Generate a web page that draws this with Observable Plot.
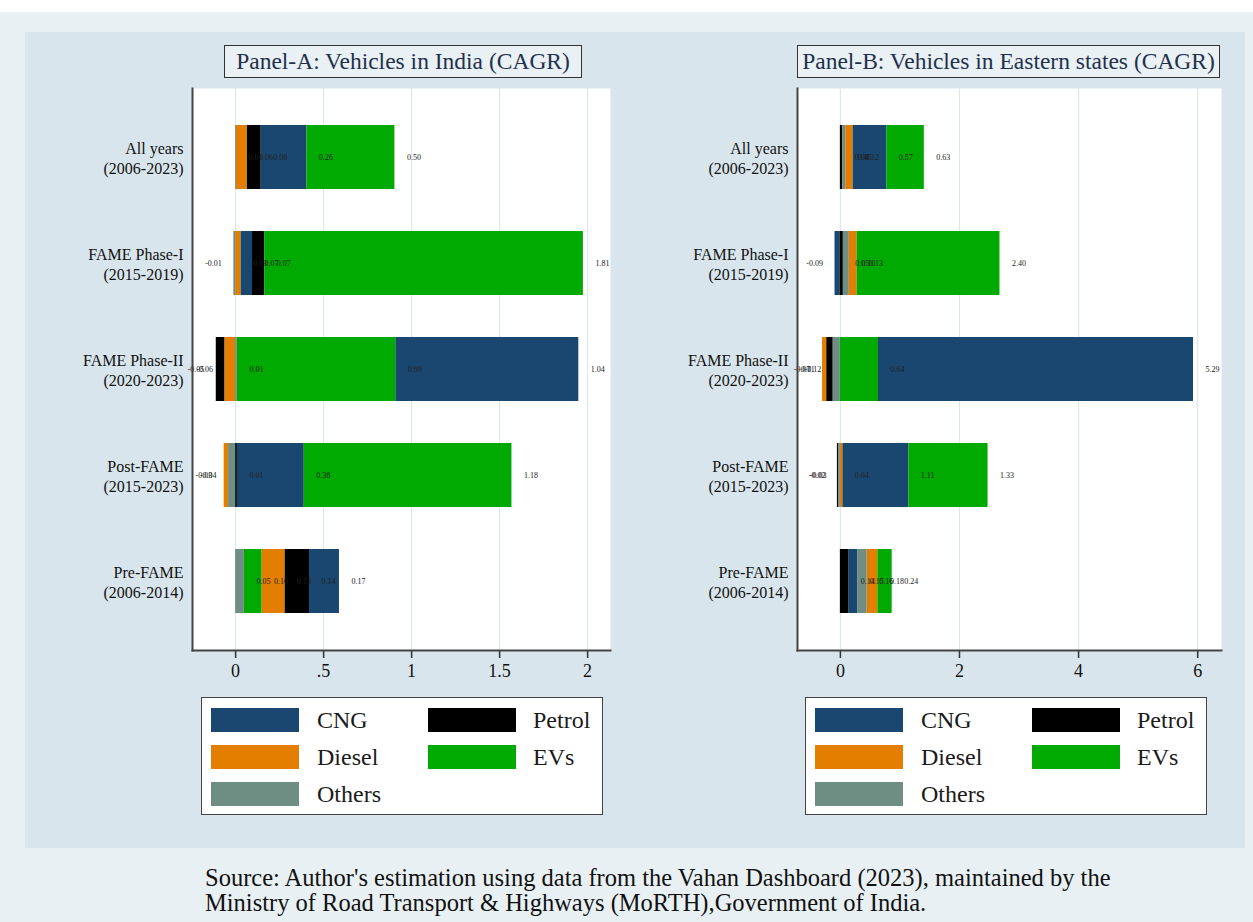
<!DOCTYPE html>
<html><head><meta charset="utf-8">
<script src="https://cdn.jsdelivr.net/npm/d3@7"></script>
<script src="https://cdn.jsdelivr.net/npm/@observablehq/plot@0.6"></script>
<style>
body{margin:0;background:#fff;}
#wrap{position:relative;width:1253px;height:922px;overflow:hidden;font-family:"Liberation Serif","Times New Roman",serif;}
#outer{position:absolute;left:0;top:12px;width:1253px;height:910px;background:#e8f0f3;}
#inner{position:absolute;left:25px;top:32px;width:1220px;height:816px;background:#d8e5ec;}
.ttl{position:absolute;top:45px;height:33px;box-sizing:border-box;border:1.5px solid #333;background:#e9f1f4;font-size:23.5px;line-height:30px;text-align:center;color:#23304d;white-space:nowrap;overflow:hidden;}
.panel{position:absolute;top:80px;}
.legend{position:absolute;top:697px;height:118px;box-sizing:border-box;border:1.5px solid #444;background:#fff;}
.sw{position:absolute;width:88px;height:24px;}
.lt{position:absolute;font-size:24px;line-height:24px;color:#1a1a1a;}
#cap{position:absolute;left:205px;top:865px;font-size:24.5px;line-height:25px;color:#111;white-space:nowrap;}
</style></head>
<body>
<div id="wrap">
  <div id="outer"></div>
  <div id="inner"></div>
  <div class="ttl" style="left:224px;width:358px;">Panel-A: Vehicles in India (CAGR)</div>
  <div class="ttl" style="left:797px;width:423px;">Panel-B: Vehicles in Eastern states (CAGR)</div>
  <div class="panel" id="pA" style="left:30px;"></div>
  <div class="panel" id="pB" style="left:640px;"></div>
  <div class="legend" id="lA" style="left:201px;width:402px;"></div>
  <div class="legend" id="lB" style="left:805px;width:402px;"></div>
  <div id="cap">Source: Author's estimation using data from the Vahan Dashboard (2023), maintained by the<br>Ministry of Road Transport &amp; Highways (MoRTH),Government of India.</div>
</div>
<script>
// ---- categories & legend ----
const fuels = ["CNG", "Petrol", "Diesel", "EVs", "Others"];
const fuelColors = ["#1a476f", "#000000", "#e37e00", "#00aa00", "#6e8e84"];
const periodNames = ["All years", "FAME Phase-I", "FAME Phase-II", "Post-FAME", "Pre-FAME"];
const periodYears = ["(2006-2023)", "(2015-2019)", "(2020-2023)", "(2015-2023)", "(2006-2014)"];

// ---- Panel A: Vehicles in India (CAGR) ----
const indiaCNG    = [0.26, 0.066, 1.04, 0.38, 0.17];
const indiaPetrol = [0.08, 0.07, -0.05, 0.01, 0.14];
const indiaDiesel = [0.06, 0.03, -0.06, -0.025, 0.13];
const indiaEVs    = [0.50, 1.81, 0.90, 1.18, 0.10];
const indiaOthers = [0.005, -0.01, 0.01, -0.04, 0.05];
const indiaTicks = [0, 0.5, 1, 1.5, 2];
const indiaTickLabels = ["0", ".5", "1", "1.5", "2"];

// ---- Panel B: Vehicles in Eastern states (CAGR) ----
const eastCNG    = [0.57, -0.09, 5.29, 1.11, 0.15];
const eastPetrol = [0.04, 0.05, -0.11, -0.02, 0.14];
const eastDiesel = [0.12, 0.13, -0.07, 0.04, 0.18];
const eastEVs    = [0.63, 2.40, 0.64, 1.33, 0.24];
const eastOthers = [0.05, 0.10, -0.12, -0.03, 0.16];
const eastTicks = [0, 2, 4, 6];
const eastTickLabels = ["0", "2", "4", "6"];

function toRows(series) {
  const out = [];
  periodNames.forEach((p, i) => fuels.forEach(f => out.push({period: p, fuel: f, value: series[f][i]})));
  return out;
}

const dataA = toRows({CNG: indiaCNG, Petrol: indiaPetrol, Diesel: indiaDiesel, EVs: indiaEVs, Others: indiaOthers});
const dataB = toRows({CNG: eastCNG, Petrol: eastPetrol, Diesel: eastDiesel, EVs: eastEVs, Others: eastOthers});

function panel(data, domain, ticks, tickLabels, marginLeft, marginRight) {
  const fmt = d => { const i = ticks.indexOf(d); return i >= 0 ? tickLabels[i] : String(d); };
  const yLab = p => p + "\n" + periodYears[periodNames.indexOf(p)];
  const lbl = d => d.value.toFixed(2);
  return Plot.plot({
    width: 590, height: 610,
    marginLeft, marginRight, marginTop: 8, marginBottom: 40,
    style: {fontFamily: '"Liberation Serif", "Times New Roman", serif', background: "transparent", color: "#111"},
    x: {domain, label: null},
    y: {domain: periodNames, paddingInner: 0.4, paddingOuter: 0.35, label: null},
    color: {domain: fuels, range: fuelColors},
    marks: [
      Plot.frame({fill: "white", stroke: null}),
      Plot.gridX(ticks, {stroke: "#dde7ed", strokeOpacity: 1, strokeWidth: 1.2}),
      Plot.barX(data, Plot.stackX({x: "value", y: "period", fill: "fuel", order: "value"})),
      Plot.text(data.filter(d => d.value > 0), Plot.stackX2({x: "value", y: "period", order: "value", text: lbl, textAnchor: "start", dx: 12, fontSize: 8, fill: "#222"})),
      Plot.text(data.filter(d => d.value < 0), Plot.stackX2({x: "value", y: "period", order: "value", text: lbl, textAnchor: "end", dx: -12, fontSize: 8, fill: "#222"})),
      Plot.axisX({ticks, tickFormat: fmt, tickSize: 8, tickPadding: 6, fontSize: 18, label: null, stroke: "#333", strokeWidth: 1.5}),
      Plot.axisY({tickSize: 0, tickPadding: 9, fontSize: 16, lineHeight: 1.25, label: null, tickFormat: yLab}),
      Plot.frame({anchor: "left", stroke: "#444", strokeWidth: 2}),
      Plot.frame({anchor: "bottom", stroke: "#444", strokeWidth: 2})
    ]
  });
}

document.getElementById("pA").appendChild(panel(dataA, [-0.245, 2.13], indiaTicks, indiaTickLabels, 162, 10));
document.getElementById("pB").appendChild(panel(dataB, [-0.72, 6.40], eastTicks, eastTickLabels, 157, 9));

function legend(el) {
  fuels.forEach((f, i) => {
    const col = i % 2, row = Math.floor(i / 2);
    const sw = document.createElement("div");
    sw.className = "sw";
    sw.style.left = (8.5 + col * 217) + "px";
    sw.style.top = (10 + row * 37) + "px";
    sw.style.background = fuelColors[i];
    el.appendChild(sw);
    const t = document.createElement("div");
    t.className = "lt";
    t.style.left = (115 + col * 216) + "px";
    t.style.top = (10 + row * 37) + "px";
    t.textContent = f;
    el.appendChild(t);
  });
}
legend(document.getElementById("lA"));
legend(document.getElementById("lB"));
</script>
</body></html>
